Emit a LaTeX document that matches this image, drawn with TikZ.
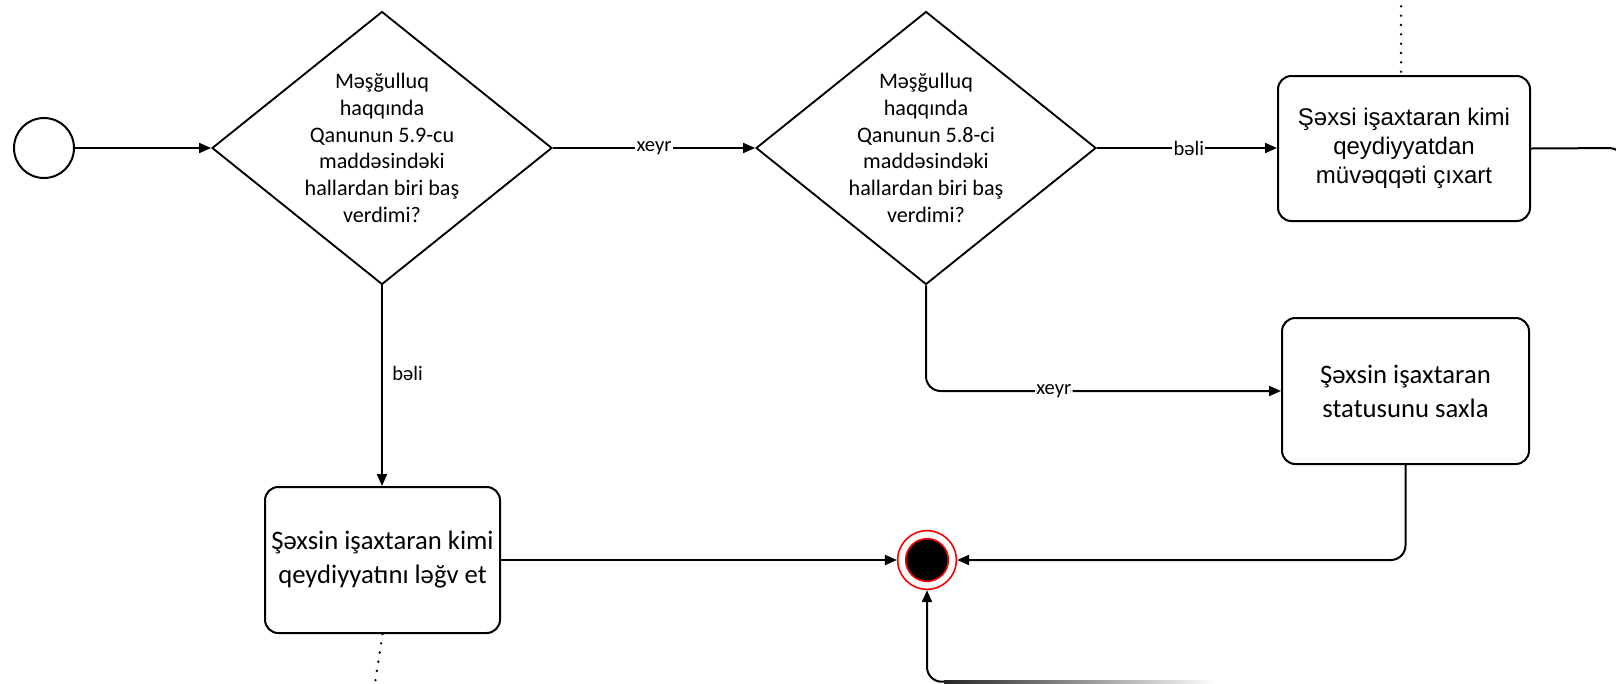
\documentclass[tikz,border=0pt]{standalone}
\usepackage{fontspec}
\setmainfont{Carlito}
\newfontfamily\arialf{Liberation Sans}
\usetikzlibrary{shapes.geometric,arrows.meta}
\begin{document}
\begin{tikzpicture}[x=0.75pt,y=-0.75pt,
  decision/.style={diamond, draw, line width=1.4pt, minimum width=255pt, minimum height=204.75pt, inner sep=0pt},
  dtext/.style={align=center, inner sep=0pt, font=\fontsize{16.6}{20}\selectfont},
  task/.style={draw, line width=1.5pt, rounded corners=10pt, align=center, inner sep=0pt, font=\fontsize{20}{25.5}\selectfont},
  flow/.style={line width=1.5pt, -{Triangle[length=9pt,width=7.5pt]}},
  plain/.style={line width=1.5pt},
  assoc/.style={line width=2pt, dash pattern=on 0pt off 7pt, line cap=round},
  lbl/.style={fill=white, inner sep=1pt, font=\fontsize{15.4}{18}\selectfont},
  startev/.style={circle, draw, line width=1.5pt, minimum size=45pt, inner sep=0pt},
  endouter/.style={circle, draw=red, line width=1.2pt, minimum size=44pt, inner sep=0pt},
  endinner/.style={circle, fill=black, draw=red, line width=1.2pt, minimum size=32pt, inner sep=0pt},
]
\useasboundingbox[fill=white] (0,0) rectangle (1616,683);

% nodes
\node[startev] (start) at (44,148) {};
\node[decision, label={[dtext]center:{Məşğulluq\\haqqında\\Qanunun 5.9-cu\\maddəsindəki\\hallardan biri baş\\verdimi?}}] (d1) at (382,148) {};
\node[decision, label={[dtext]center:{Məşğulluq\\haqqında\\Qanunun 5.8-ci\\maddəsindəki\\hallardan biri baş\\verdimi?}}] (d2) at (926,148) {};
\node[task, minimum width=189pt, minimum height=108.75pt, font=\arialf\fontsize{18}{22}\selectfont] (a) at (1404,148.5) {Şəxsi işaxtaran kimi\\qeydiyyatdan\\müvəqqəti çıxart};
\node[task, minimum width=185.25pt, minimum height=109.5pt] (b) at (1405.5,391) {Şəxsin işaxtaran\\statusunu saxla};
\node[task, minimum width=176.25pt, minimum height=109.5pt] (c) at (382.5,560) {Şəxsin işaxtaran kimi\\qeydiyyatını ləğv et};
\node[endouter] (end) at (927,560) {};
\node[endinner] (endin) at (end) {};

% free ends
\coordinate (topdot) at (1401,-3);
\coordinate (botdot) at (374,690);
\coordinate (rturn) at (1622,148);
\coordinate (rdown) at (1622,320);
\coordinate (fade) at (945,681.7);

% connectors
\draw[flow] (start) -- (d1);
\draw[flow] (d1) -- node[lbl] {xeyr} (d2);
\draw[flow] (d2.east) -- node[lbl, pos=0.51] {bəli} (d2.east -| a.west);
\draw[flow] (d1.south) -- node[pos=0.44, anchor=west, inner sep=0pt, xshift=7pt, font=\fontsize{15.4}{18}\selectfont] {bəli} (d1.south |- c.north);
\draw[flow, rounded corners=11pt] (d2.south) |- node[lbl, pos=0.68] {xeyr} (b.west);
\draw[flow] (c) -- (end);
\draw[flow, rounded corners=11pt] (b.south) |- (end.east);
\draw[flow, rounded corners=11pt] (fade) -| (end.south);
\shade[left color=black!85, right color=white] (944,680.4) rectangle (1217,683);
\draw[plain, rounded corners=9pt] (a.east) -- (rturn) -- (rdown);
\draw[assoc] (topdot) -- (topdot |- a.north);
\draw[assoc] (c.south) -- (botdot);
\end{tikzpicture}
\end{document}
